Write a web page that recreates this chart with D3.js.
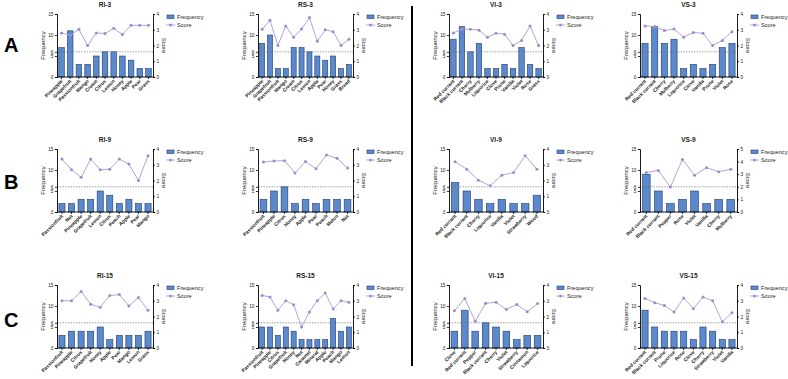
<!DOCTYPE html>
<html><head><meta charset="utf-8">
<script src="https://cdn.jsdelivr.net/npm/d3@7"></script>
<style>body{margin:0;background:#fff}svg{display:block;font-family:"Liberation Sans",Arial,sans-serif}</style>
</head><body><svg id="c" width="788" height="379"></svg>
<script>
// ---------- data ----------
const ri3Cats = ["Pineapple","Grapefruit","Passionfruit","Mango","Cream","Citrus","Lemon","Honey","Apple","Pear","Grass"];
const ri3Freq = [7,11,3,3,5,6,6,5,4,2,2];
const ri3Score = [2.8,2.65,3.03,2.0,2.8,2.76,3.1,2.7,3.28,3.28,3.28];

const rs3Cats = ["Pineapple","Grapefruit","Passionfruit","Mango","Cream","Citrus","Lemon","Apple","Pear","Honey","Grass","Bread"];
const rs3Freq = [8,10,2,2,7,7,6,5,4,5,2,3];
const rs3Score = [3.03,3.6,2.0,3.24,2.53,3.05,3.77,2.27,3.0,2.88,2.0,2.4];

const vi3Cats = ["Red currant","Black currant","Cherry","Mulberry","Liquorice","Clove","Prune","Vanilla","Violet","Rose","Grass"];
const vi3Freq = [9,12,6,8,2,2,3,2,7,3,2];
const vi3Score = [2.8,3.03,3.03,2.97,2.53,2.78,2.72,2.0,2.32,3.24,2.0];

const vs3Cats = ["Red currant","Black currant","Cherry","Mulberry","Liquorice","Clove","Vanilla","Prune","Violet","Rose"];
const vs3Freq = [8,12,8,9,2,3,2,3,7,8];
const vs3Score = [3.24,3.2,2.95,3.05,2.53,2.82,2.78,2.0,2.32,2.88];

const ri9Cats = ["Passionfruit","Nut","Pineapple","Grapefruit","Lemon","Citrus","Peach","Apple","Pear","Mango"];
const ri9Freq = [2,2,3,3,5,4,2,3,2,2];
const ri9Score = [3.36,2.68,2.2,3.36,2.68,2.72,3.36,3.04,2.0,3.57];

const rs9Cats = ["Passionfruit","Pineapple","Citrus","Honey","Apple","Pear","Peach","Melon","Nut"];
const rs9Freq = [3,5,6,2,3,2,3,3,3];
const rs9Score = [3.17,3.24,3.26,2.48,3.2,2.75,3.62,3.41,2.79];

const vi9Cats = ["Red currant","Black currant","Cherry","Liquorice","Vanilla","Violet","Strawberry","Wood"];
const vi9Freq = [7,5,3,2,3,2,2,4];
const vi9Score = [3.19,2.72,2.02,1.66,2.34,2.51,3.57,2.72];

const vs9Cats = ["Red currant","Black currant","Pepper","Rose","Violet","Vanilla","Cherry","Mulberry"];
const vs9Freq = [9,5,2,3,5,2,3,3];
const vs9Score = [3.13,3.3,1.98,4.17,2.92,3.52,3.2,3.39];

const ri15Cats = ["Passionfruit","Pineapple","Citrus","Grapefruit","Honey","Apple","Pear","Mango","Lemon","Grass"];
const ri15Freq = [3,4,4,4,5,2,3,3,3,4];
const ri15Score = [3.0,3.0,3.58,2.78,2.59,3.33,3.39,2.67,3.2,2.4];

const rs15Cats = ["Passionfruit","Pineapple","Citrus","Grapefruit","Honey","Nut","Caramel","Mineral","Apple","Peach","Mango","Lemon"];
const rs15Freq = [5,5,3,5,4,2,2,2,2,7,4,5];
const rs15Score = [3.34,3.24,2.39,3.0,2.75,1.33,2.29,3.0,3.49,2.48,3.0,2.9];

const vi15Cats = ["Clove","Red currant","Pepper","Black currant","Cherry","Violet","Strawberry","Cinnamon","Liquorice"];
const vi15Freq = [4,9,4,6,5,4,2,3,3];
const vi15Score = [2.36,3.15,1.7,2.84,2.9,2.45,2.76,2.3,2.82];

const vs15Cats = ["Red currant","Black currant","Prune","Liquorice","Rose","Clove","Cherry","Strawberry","Violet","Vanilla"];
const vs15Freq = [9,5,4,4,4,2,5,4,2,2];
const vs15Score = [3.15,2.88,2.7,2.28,3.17,2.5,3.24,3.0,1.66,2.24];

const freqTicks = [0,5,6,10,15];
const rowLetters = ["A","B","C"];

// ---------- layout ----------
const colX = [[57,153],[258,353],[449,543],[640,737]];
const rowY = [[14,77],[149,212],[285,348]];
const panels = [
  {t:"RI-3",c:ri3Cats,f:ri3Freq,s:ri3Score,sm:4,r:0,col:0},
  {t:"RS-3",c:rs3Cats,f:rs3Freq,s:rs3Score,sm:4,r:0,col:1},
  {t:"VI-3",c:vi3Cats,f:vi3Freq,s:vi3Score,sm:4,r:0,col:2},
  {t:"VS-3",c:vs3Cats,f:vs3Freq,s:vs3Score,sm:4,r:0,col:3},
  {t:"RI-9",c:ri9Cats,f:ri9Freq,s:ri9Score,sm:4,r:1,col:0},
  {t:"RS-9",c:rs9Cats,f:rs9Freq,s:rs9Score,sm:4,r:1,col:1},
  {t:"VI-9",c:vi9Cats,f:vi9Freq,s:vi9Score,sm:4,r:1,col:2},
  {t:"VS-9",c:vs9Cats,f:vs9Freq,s:vs9Score,sm:5,r:1,col:3},
  {t:"RI-15",c:ri15Cats,f:ri15Freq,s:ri15Score,sm:4,r:2,col:0},
  {t:"RS-15",c:rs15Cats,f:rs15Freq,s:rs15Score,sm:4,r:2,col:1},
  {t:"VI-15",c:vi15Cats,f:vi15Freq,s:vi15Score,sm:4,r:2,col:2},
  {t:"VS-15",c:vs15Cats,f:vs15Freq,s:vs15Score,sm:4,r:2,col:3}
];

const svg = d3.select("#c");
const barFill = "#5b89cc", barStroke = "#1d3a6e";
const lineCol = "#b3a3dc", dotCol = "#9d8bd0";

function styleAxis(g){
  g.selectAll("path.domain").attr("stroke","#000").attr("stroke-width",0.9);
  g.selectAll(".tick line").attr("stroke","#000").attr("stroke-width",0.8);
  g.selectAll(".tick text").attr("font-size",4.8).attr("fill","#222").attr("font-family","Liberation Sans, Arial, sans-serif");
}

panels.forEach(p=>{
  const [x0,x1] = colX[p.col], [y0,y1] = rowY[p.r];
  const g = svg.append("g");
  const x = d3.scaleBand().domain(p.c).range([x0,x1]).paddingInner(0.36).paddingOuter(0.2);
  const yF = d3.scaleLinear().domain([0,15]).range([y1,y0]);
  const yS = d3.scaleLinear().domain([0,p.sm]).range([y1,y0]);

  // bars
  g.selectAll("rect.bar").data(p.c).join("rect").attr("class","bar")
    .attr("x",d=>x(d)).attr("width",x.bandwidth())
    .attr("y",(d,i)=>yF(p.f[i])).attr("height",(d,i)=>yF(0)-yF(p.f[i]))
    .attr("fill",barFill).attr("stroke",barStroke).attr("stroke-width",0.6);

  // dashed reference line at 6
  g.append("line").attr("x1",x0).attr("x2",x1).attr("y1",yF(6)).attr("y2",yF(6))
    .attr("stroke","#777").attr("stroke-width",0.7).attr("stroke-dasharray","1.5,1.2");

  // score line
  const line = d3.line().x((d,i)=>x(p.c[i])+x.bandwidth()/2).y(d=>yS(d));
  g.append("path").datum(p.s).attr("d",line).attr("fill","none").attr("stroke",lineCol).attr("stroke-width",1);
  g.selectAll("circle.pt").data(p.s).join("circle").attr("class","pt")
    .attr("cx",(d,i)=>x(p.c[i])+x.bandwidth()/2).attr("cy",d=>yS(d)).attr("r",1.5)
    .attr("fill",dotCol);

  // axes
  const la = g.append("g").attr("transform",`translate(${x0},0)`)
    .call(d3.axisLeft(yF).tickValues(freqTicks).tickSize(2).tickPadding(1.5));
  styleAxis(la);
  const ra = g.append("g").attr("transform",`translate(${x1},0)`)
    .call(d3.axisRight(yS).ticks(p.sm).tickSize(2).tickPadding(1.5));
  styleAxis(ra);
  const ba = g.append("g").attr("transform",`translate(0,${y1})`)
    .call(d3.axisBottom(x).tickSize(2).tickFormat(""));
  ba.select("path.domain").attr("d",`M${x0},0H${x1}`);
  styleAxis(ba);

  // rotated category labels
  g.selectAll("text.cat").data(p.c).join("text").attr("class","cat")
    .attr("transform",d=>`translate(${x(d)+x.bandwidth()/2+1.5},${y1+4.5}) rotate(-45)`)
    .attr("text-anchor","end").attr("font-size",4.9).attr("font-weight","bold").attr("fill","#222")
    .text(d=>d);

  // title
  g.append("text").attr("x",(x0+x1)/2).attr("y",y0-7).attr("text-anchor","middle")
    .attr("font-size",6.5).attr("font-weight","bold").attr("fill","#222").text(p.t);

  // axis titles
  g.append("text").attr("transform",`translate(${x0-12},${(y0+y1)/2}) rotate(-90)`)
    .attr("text-anchor","middle").attr("font-size",6).attr("fill","#222").text("Frequency");
  g.append("text").attr("transform",`translate(${x1+9},${(y0+y1)/2}) rotate(90)`)
    .attr("text-anchor","middle").attr("font-size",6).attr("fill","#222").text("Score");

  // legend
  const lx = x1+14;
  g.append("rect").attr("x",lx).attr("y",y0+1).attr("width",7).attr("height",3.5)
    .attr("fill",barFill).attr("stroke",barStroke).attr("stroke-width",0.6);
  g.append("text").attr("x",lx+10).attr("y",y0+5).attr("font-size",5.6).attr("fill","#222").text("Frequency");
  g.append("line").attr("x1",lx-1).attr("x2",lx+8).attr("y1",y0+11).attr("y2",y0+11)
    .attr("stroke",lineCol).attr("stroke-width",1);
  g.append("circle").attr("cx",lx+3.5).attr("cy",y0+11).attr("r",1.5).attr("fill",dotCol);
  g.append("text").attr("x",lx+10).attr("y",y0+13).attr("font-size",5.6).attr("fill","#222").text("Score");
});

// row letters
const letterPos = [45,182,320];
rowLetters.forEach((l,i)=>{
  svg.append("text").attr("x",4).attr("y",letterPos[i]+7).attr("font-size",20).attr("font-weight","bold")
    .attr("fill","#000").text(l);
});

// vertical divider
svg.append("line").attr("x1",412).attr("x2",412).attr("y1",6).attr("y2",366)
  .attr("stroke","#000").attr("stroke-width",2);
</script></body></html>
